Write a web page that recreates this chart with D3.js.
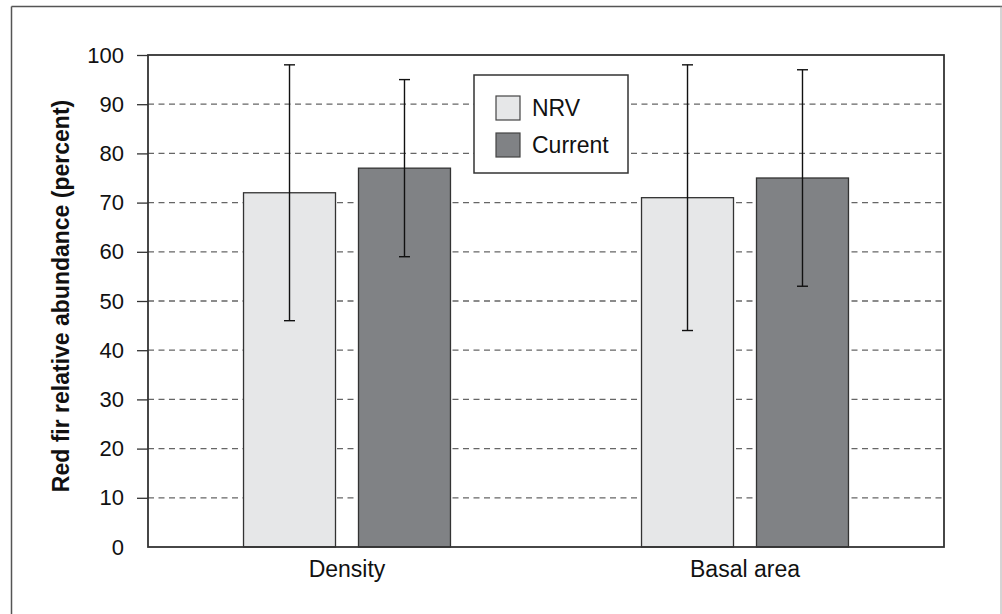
<!DOCTYPE html>
<html>
<head>
<meta charset="utf-8">
<script src="https://cdn.jsdelivr.net/npm/d3@7"></script>
<style>
  html, body { margin: 0; padding: 0; background: #fff; }
  svg { display: block; font-family: "Liberation Sans", Arial, Helvetica, sans-serif; font-variant-ligatures: none; }
  text { font-variant-ligatures: none; font-feature-settings: "liga" 0; }
</style>
</head>
<body>
<svg id="chart" width="1002" height="614"></svg>
<script>
const categories = ["Density", "Basal area"];
const seriesNames = ["NRV", "Current"];
const nrvValues = [72, 71];
const nrvLow = [46, 44];
const nrvHigh = [98, 98];
const currentValues = [77, 75];
const currentLow = [59, 53];
const currentHigh = [95, 97];
const yTicks = [0, 10, 20, 30, 40, 50, 60, 70, 80, 90, 100];
const yTitle = "Red fir relative abundance (percent)";
const seriesColors = ["#e6e7e8", "#808285"];

const svg = d3.select("#chart");
const W = 1002, H = 614;

// outer frame
svg.append("line").attr("x1", 11.5).attr("x2", 11.5).attr("y1", 6.5).attr("y2", H)
  .attr("stroke", "#555").attr("stroke-width", 1.5);
svg.append("line").attr("x1", 11.5).attr("x2", W).attr("y1", 6.5).attr("y2", 6.5)
  .attr("stroke", "#555").attr("stroke-width", 1.5);
svg.append("line").attr("x1", 1001).attr("x2", 1001).attr("y1", 6.5).attr("y2", H)
  .attr("stroke", "#aaa").attr("stroke-width", 1);

const y = d3.scaleLinear().domain([0, 100]).range([547, 55]);
const x0 = d3.scaleBand().domain(categories).range([148, 944])
  .paddingInner(0.48).paddingOuter(0.24);
const x1 = d3.scaleBand().domain(seriesNames).range([0, x0.bandwidth()])
  .paddingInner(0.2).paddingOuter(0);

// gridlines
svg.append("g").selectAll("line").data(yTicks.filter(d => d > 0 && d < 100)).join("line")
  .attr("x1", 148).attr("x2", 944)
  .attr("y1", d => y(d)).attr("y2", d => y(d))
  .attr("stroke", "#666").attr("stroke-width", 1.3).attr("stroke-dasharray", "6,4.5");

// data table
const data = categories.map((c, i) => ({
  cat: c,
  vals: [
    { s: "NRV", v: nrvValues[i], lo: nrvLow[i], hi: nrvHigh[i] },
    { s: "Current", v: currentValues[i], lo: currentLow[i], hi: currentHigh[i] }
  ]
}));

const groups = svg.append("g").selectAll("g").data(data).join("g")
  .attr("transform", d => `translate(${x0(d.cat)},0)`);

groups.selectAll("rect").data(d => d.vals).join("rect")
  .attr("x", d => x1(d.s)).attr("width", x1.bandwidth())
  .attr("y", d => y(d.v)).attr("height", d => y(0) - y(d.v))
  .attr("fill", (d, i) => seriesColors[i])
  .attr("stroke", "#333").attr("stroke-width", 1.3);

// error bars
const eb = groups.selectAll("g.err").data(d => d.vals).join("g").attr("class", "err");
eb.append("line")
  .attr("x1", d => x1(d.s) + x1.bandwidth() / 2).attr("x2", d => x1(d.s) + x1.bandwidth() / 2)
  .attr("y1", d => y(d.lo)).attr("y2", d => y(d.hi))
  .attr("stroke", "#111").attr("stroke-width", 1.4);
["lo", "hi"].forEach(k => {
  eb.append("line")
    .attr("x1", d => x1(d.s) + x1.bandwidth() / 2 - 5.5).attr("x2", d => x1(d.s) + x1.bandwidth() / 2 + 5.5)
    .attr("y1", d => y(d[k])).attr("y2", d => y(d[k]))
    .attr("stroke", "#111").attr("stroke-width", 1.4);
});

// plot frame
svg.append("rect").attr("x", 148).attr("y", 55).attr("width", 944 - 148).attr("height", 547 - 55)
  .attr("fill", "none").attr("stroke", "#333").attr("stroke-width", 1.8);

// y axis
const yAxis = d3.axisLeft(y).tickValues(yTicks).tickSize(11).tickPadding(13).tickFormat(d3.format("d"));
const ga = svg.append("g").attr("transform", "translate(148,0)").call(yAxis);
ga.select(".domain").remove();
ga.selectAll(".tick line").attr("stroke", "#333").attr("stroke-width", 1.3)
  .filter(d => d === 0).remove();
ga.selectAll(".tick text").attr("font-size", 22).attr("fill", "#111")
  .attr("font-family", "'Liberation Sans', Arial, sans-serif");

// x axis labels
const xAxis = d3.axisBottom(x0).tickSize(0).tickPadding(14);
const gx = svg.append("g").attr("transform", "translate(0,547)").call(xAxis);
gx.select(".domain").remove();
gx.selectAll(".tick text").attr("font-size", 23).attr("fill", "#111")
  .attr("font-family", "'Liberation Sans', Arial, sans-serif");

// y title
svg.append("text")
  .attr("transform", `translate(69,296) rotate(-90)`)
  .attr("text-anchor", "middle")
  .attr("font-size", 23).attr("font-weight", "bold").attr("fill", "#111")
  .text(yTitle);

// legend
const lg = svg.append("g");
lg.append("rect").attr("x", 474).attr("y", 75).attr("width", 154).attr("height", 98)
  .attr("fill", "#fff").attr("stroke", "#333").attr("stroke-width", 1.5);
seriesNames.forEach((s, i) => {
  lg.append("rect").attr("x", 496).attr("y", 96 + i * 37).attr("width", 24).attr("height", 24)
    .attr("fill", seriesColors[i]).attr("stroke", "#444").attr("stroke-width", 1.2);
  lg.append("text").attr("x", 532).attr("y", 116 + i * 37)
    .attr("font-size", 23).attr("fill", "#111").text(s);
});
</script>
</body>
</html>
